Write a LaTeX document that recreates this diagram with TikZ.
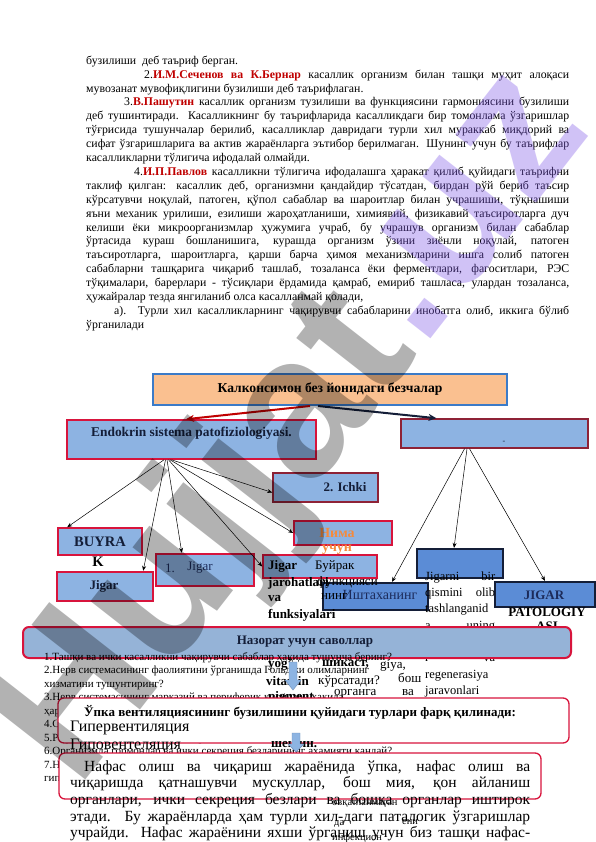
\documentclass[tikz,border=0pt]{standalone}
\usepackage{fontspec}
\setmainfont{Liberation Serif}
\setsansfont{Liberation Sans}
\usetikzlibrary{arrows.meta}
\definecolor{dred}{HTML}{C00000}
\definecolor{crim}{HTML}{D8143C}
\definecolor{mred}{HTML}{8E2236}
\definecolor{lblue}{HTML}{8DB3E2}
\definecolor{mblue}{HTML}{5B8CD6}
\definecolor{navy}{HTML}{141E38}
\definecolor{ofill}{HTML}{FAC090}
\definecolor{tborder}{HTML}{3B7BC8}
\definecolor{nfill}{HTML}{95B3D7}
\definecolor{otext}{HTML}{F58A3C}
\definecolor{wmpurple}{HTML}{7B52E8}
\definecolor{txtnavy}{HTML}{1C2B5A}
\definecolor{abfill}{HTML}{8DB4E2}
\definecolor{abdraw}{HTML}{6E8FB8}
\newcommand{\redname}[1]{\textcolor{dred}{\textbf{#1}}}
\newcommand{\jl}[1]{\makebox[483pt][s]{#1}}
\newcommand{\jn}[1]{\makebox[460pt][s]{#1}}
\newcommand{\jc}[1]{\makebox[70pt][s]{#1}}
\begin{document}
\begin{tikzpicture}[x=1pt,y=-1pt,
  lbox/.style={rectangle,inner sep=0pt,fill=lblue,draw=crim,line width=1.6pt},
  mbox/.style={rectangle,inner sep=0pt,fill=lblue,draw=mred,line width=1.5pt},
  dbox/.style={rectangle,inner sep=0pt,fill=mblue,draw=navy,line width=2.2pt},
  rbar/.style={rectangle,rounded corners=6pt,inner sep=0pt,draw=crim,line width=1.3pt,fill=white},
  bt/.style={inner sep=0pt,font=\fontsize{13}{15}\selectfont\bfseries},
  rt/.style={inner sep=0pt,font=\fontsize{13}{15}\selectfont},
  st/.style={inner sep=0pt,anchor=west,font=\fontsize{10.5}{12}\selectfont},
  fan/.style={line width=0.5pt,-{Stealth[length=5pt,width=4pt]}},
  bigarrow/.style={line width=2pt,-{Stealth[length=8pt,width=7pt]}},
  darrow/.style={fill=abfill,draw=abdraw,line width=0.4pt}]
\useasboundingbox (0,0) rectangle (596,842);
\fill[white] (0,0) rectangle (596,842);

% ---------- body text ----------
\node[anchor=north west,inner sep=0pt,align=left,font=\fontsize{11.8}{13.9}\selectfont] (body) at (86,54.3) {%
\strut бузилиши\ \ деб таъриф берган.\\
\jl{\hspace*{58pt}2.\redname{И.М.Сеченов ва К.Бернар} касаллик организм билан ташқи муҳит алоқаси}\\
мувозанат мувофиқлигини бузилиши деб таърифлаган.\\
\jl{\hspace*{38pt}3.\redname{В.Пашутин} касаллик организм тузилиши ва функциясини гармониясини бузилиши}\\
\jl{деб тушинтиради. Касалликнинг бу таърифларида касалликдаги бир томонлама ўзгаришлар}\\
\jl{тўғрисида тушунчалар берилиб, касалликлар давридаги турли хил мураккаб миқдорий ва}\\
\jl{сифат ўзгаришларига ва актив жараёнларга эътибор берилмаган. Шунинг учун бу таърифлар}\\
касалликларни тўлигича ифодалай олмайди.\\
\jl{\hspace*{48pt}4.\redname{И.П.Павлов} касалликни тўлигича ифодалашга ҳаракат қилиб қуйидаги таърифни}\\
\jl{таклиф қилган: касаллик деб, организмни қандайдир тўсатдан, бирдан рўй бериб таъсир}\\
\jl{кўрсатувчи ноқулай, патоген, қўпол сабаблар ва шароитлар билан учрашиши, тўқнашиши}\\
\jl{яъни механик урилиши, езилиши жароҳатланиши, химиявий, физикавий таъсиротларга дуч}\\
\jl{келиши ёки микроорганизмлар ҳужумига учраб, бу учрашув организм билан сабаблар}\\
\jl{ўртасида кураш бошланишига, курашда организм ўзини зиёнли ноқулай, патоген}\\
\jl{таъсиротларга, шароитларга, қарши барча ҳимоя механизмларини ишга солиб патоген}\\
\jl{сабабларни ташқарига чиқариб ташлаб, тозаланса ёки ферментлари, фагоситлари, РЭС}\\
\jl{тўқималари, барерлари - тўсиқлари ёрдамида қамраб, емириб ташласа, улардан тозаланса,}\\
ҳужайралар тезда янгиланиб олса касалланмай қолади,\\
\jl{\hspace*{28pt}а). Турли хил касалликларнинг чақирувчи сабабларини инобатга олиб, иккига бўлиб}\\
ўрганилади};

% ---------- top level ----------
\node[rectangle,inner sep=0pt,fill=ofill,draw=tborder,line width=2pt,minimum width=354pt,minimum height=31pt] (top) at (330,389.5) {};
\node[bt,font=\fontsize{13.6}{15}\selectfont\bfseries] (toptext) at (330,389) {Калконсимон без йонидаги безчалар};
\node[lbox,minimum width=249pt,minimum height=39pt] (endo) at (191.5,439.5) {};
\node[bt,font=\fontsize{13.4}{14}\selectfont\bfseries,text=navy] (endotext) at (191.5,433) {Endokrin sistema patofiziologiyasi.};
\node[mbox,minimum width=187pt,minimum height=29pt] (rbox) at (494.5,433.5) {};
\node[inner sep=0pt,font=\fontsize{8}{9}\selectfont,text=navy] (rdash) at (504,442) {-};
\draw[bigarrow,dred] ([xshift=-20pt]top.south) -- ([xshift=-5.5pt]endo.north);
\draw[bigarrow,navy] ([xshift=-12pt]top.south) -- ([xshift=-58pt]rbox.north);

% ---------- left fan boxes ----------
\node[mbox,minimum width=105pt,minimum height=29pt] (ichki) at (325.5,487.5) {};
\node[bt,text=navy] (ichkitext) at (345,487) {2. Ichki};
\node[lbox,minimum width=98pt,minimum height=24pt] (nima) at (343,533) {};
\node[bt,font=\fontsize{14}{15}\selectfont\bfseries,text=otext] (nimat1) at (337,533) {Нима};
\node[bt,font=\fontsize{14}{15}\selectfont\bfseries,text=otext] (nimat2) at (337,550) {учун};
\node[lbox,minimum width=84pt,minimum height=27pt] (buyrak) at (100,541.5) {};
\node[bt,font=\fontsize{14.5}{16}\selectfont\bfseries,text=navy] (buyrakt) at (100,542) {BUYRA};
\node[bt,font=\fontsize{14.5}{16}\selectfont\bfseries] (buyrakk) at (98,562) {K};
\node[lbox,line width=2.4pt,minimum width=96pt,minimum height=29pt] (jigL) at (105,586.5) {};
\node[bt,text=navy] (jigLt) at (104,586) {Jigar};
\node[lbox,line width=2.4pt,minimum width=98pt,minimum height=32pt] (jig1) at (205,570) {};
\node[rt,text=txtnavy] (jig1a) at (170,568) {1.};
\node[rt,text=txtnavy] (jig1b) at (200,568) {Jigar};
\node[lbox,minimum width=114pt,minimum height=23pt] (jar) at (320,566.5) {};

\draw[fan] ([xshift=-27.5pt]endo.south) -- ([xshift=10pt]buyrak.north west);
\draw[fan] ([xshift=-26pt]endo.south) -- ([xshift=-11pt]jigL.north east);
\draw[fan] ([xshift=-24.5pt]endo.south) -- ([xshift=27pt]jig1.north west);
\draw[fan] ([xshift=-23pt]endo.south) -- (jar.west);
\draw[fan] ([xshift=-21.5pt]endo.south) -- (nima.west);
\draw[fan] ([xshift=-20pt]endo.south) -- ([yshift=-5pt]ichki.west);

% ---------- right fan boxes ----------
\node[dbox,minimum width=86pt,minimum height=29pt] (mid) at (460,563.5) {};
\node[dbox,minimum width=105pt,minimum height=27pt] (isht) at (375.5,596.5) {};
\node[rt,font=\fontsize{14}{15}\selectfont,text=txtnavy] (ishtt) at (380,595) {Иштаханинг};
\node[dbox,minimum width=100pt,minimum height=25pt] (jigR) at (545,594.5) {};
\node[bt,text=txtnavy] (jigRt) at (544,595) {JIGAR};
\node[bt] (patol) at (547,612) {PATOLOGIY};
\node[bt] (patol2) at (547,626) {ASI};
\draw[fan] ([xshift=-30pt]rbox.south) -- ([xshift=16.5pt]isht.north);
\draw[fan] ([xshift=-27.5pt]rbox.south) -- ([xshift=-6pt]mid.north);
\draw[fan] ([xshift=-25pt]rbox.south) -- (jigR.north);

% ---------- overflowing texts ----------
\node[bt,anchor=west] (jart1) at (268,566) {Jigar};
\node[rt,anchor=west] (jart2) at (315,566) {Буйрак};
\node[bt,anchor=west] (jart3) at (268,583) {jarohatlari};
\node[rt,anchor=west] (jart4) at (317,582) {функцияси};
\node[bt,anchor=west] (jart5) at (268,599) {va};
\node[rt,anchor=west] (jart6) at (321,597) {нинг};
\node[bt,anchor=west] (jart7) at (268,615) {funksiyalari};
\node[anchor=north west,inner sep=0pt,align=left,font=\fontsize{12.5}{16.3}\selectfont] (col) at (425,568.6) {%
\strut\jc{Jigarni bir}\\ \jc{qismini olib}\\ \jc{tashlanganid}\\ \jc{a uning}\\ \jc{hujayralari}\\ \jc{r va}\\ regenerasiya\\ jaravonlari};

% ---------- control questions bar ----------
\node[rectangle,rounded corners=6pt,inner sep=0pt,fill=nfill,draw=crim,line width=2pt,minimum width=548pt,minimum height=31pt] (naz) at (297,642.5) {};
\node[bt,text=navy] (naztext) at (305,642) {Назорат учун саволлар};

\node[anchor=north west,inner sep=0pt,align=left,font=\fontsize{11}{13.5}\selectfont] (quest) at (44,650.5) {%
\strut 1.Ташқи ва ички касалликни чақирувчи сабаблар ҳақида тушунча беринг?\\
2.Нерв системасининг фаолиятини ўрганишда Гольджи олимларнинг\\
хизматини тушунтиринг?\\
3.Нерв системасининг марказий ва периферик қисмлари ҳақида\\
ҳаракатлантирувчи тизимлар ҳақида маълумот беринг?\\
4.Сезги органлари фаолияти бузилишини тушунтиринг?\\
5.Рефлекс ёйи ҳақида гапириб беринг?\\
6.Организмда гормонлар ва ички секреция безларининг аҳамияти қандай?\\
7.Нафас олиш тизимининг бузилишлари нималарга олиб келади,\\
гипоксия ҳолатлари?};

\node[bt,anchor=west] (fr1) at (268,665) {yog'};
\node[bt,anchor=west] (fr2) at (322,664) {шикаст,};
\node[rt,anchor=west] (fr3) at (380,666) {giya,};
\node[bt,anchor=west] (fr4) at (266,681) {vitamin};
\node[rt,anchor=west] (fr5) at (318,681) {кўрсатади?};
\node[rt,anchor=west] (fr6) at (398,678) {бош};
\node[rt,anchor=west] (fr7) at (402,693) {ва};
\node[bt,anchor=west] (fr8) at (268,697) {pigment};
\node[rt,anchor=west] (fr9) at (334,694) {органга};

% ---------- lung ventilation box ----------
\node[rbar,minimum width=511pt,minimum height=45pt] (upka) at (313.5,720.5) {};
\node[bt,anchor=west] (upkat) at (84,712) {Ўпка вентиляциясининг бузилишини қуйидаги турлари фарқ қилинади:};
\node[rt,anchor=west,font=\fontsize{16}{18}\selectfont] (hyper) at (70,728) {Гипервентиляция};
\node[rt,anchor=west,font=\fontsize{16}{18}\selectfont] (hypo) at (70,746) {Гиповентеляция};
\node[bt,anchor=west] (fr10) at (271,745) {шешин.};

\draw[darrow] (289,662) -- (297,662) -- (297,680) -- (301,680) -- (293,690) -- (285,680) -- (289,680) -- cycle;
\draw[darrow] (292,733) -- (300,733) -- (300,744) -- (304,744) -- (296,752) -- (288,744) -- (292,744) -- cycle;

% ---------- breathing box ----------
\node[rbar,minimum width=482pt,minimum height=46pt] (nafas) at (300,776) {};
\node[anchor=north west,inner sep=0pt,align=left,font=\fontsize{15.5}{16.6}\selectfont] (nafastext) at (70,759.4) {%
\strut\jn{\hspace*{14pt}Нафас олиш ва чиқариш жараёнида ўпка, нафас олиш ва}\\
\jn{чиқаришда қатнашувчи мускуллар, бош мия, қон айланиш}\\
\jn{органлари, ички секреция безлари ва бошқа органлар иштирок}\\
\jn{этади. Бу жараёнларда ҳам турли хил-даги паталогик ўзгаришлар}\\
\jn{учрайди. Нафас жараёнини яхши ўрганиш учун биз ташқи нафас-}};
\node[st] (fr11) at (332,804) {овқатланмаган};
\node[st] (fr12) at (334,824) {да};
\node[st] (fr13) at (402,822) {ени};
\node[st] (fr14) at (332,838) {инфекцион};

% ---------- watermark ----------
\node[rotate=52,inner sep=0pt,text=black,opacity=0.3,font=\fontsize{200}{200}\selectfont\sffamily\bfseries] (wm) at (208,540) {Hujjat};
\node[rotate=52,inner sep=0pt,text=wmpurple,opacity=0.35,font=\fontsize{200}{200}\selectfont\sffamily\bfseries] (wm2) at (467,208) {.uz};
\end{tikzpicture}
\end{document}
